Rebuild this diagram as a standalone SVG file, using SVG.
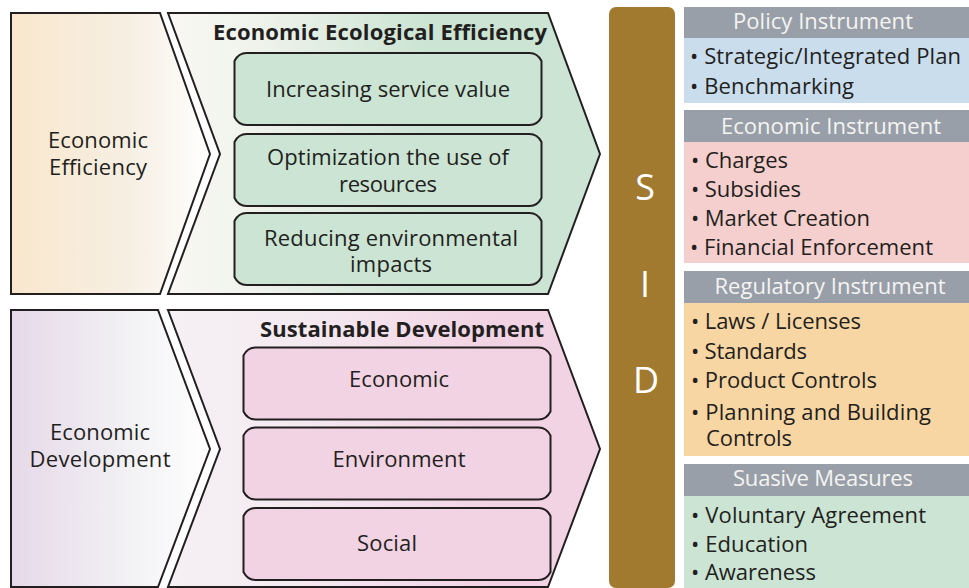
<svg xmlns="http://www.w3.org/2000/svg" width="969" height="588" viewBox="0 0 969 588">
<style>
text{font-family:"Open Sans","Noto Sans","Liberation Sans",sans-serif;fill:#231f20;font-size:22px}
.m{text-anchor:middle}
.b{font-weight:700}
.w{fill:#f4f4f2}
.sid{fill:#fff;font-size:36px;text-anchor:middle}
.arrow{stroke:#231f20;stroke-width:2}
.box{stroke:#231f20;stroke-width:2}
.g{fill:#cbe4d3}.p{fill:#f2d3e3}
.h{fill:#999fa8}
</style>
<defs>
<linearGradient id="a1" x1="0" x2="1" y1="0" y2="0"><stop offset="0" stop-color="#f9e7cd"/><stop offset="0.6" stop-color="#f6efe3"/><stop offset="1" stop-color="#fff"/></linearGradient>
<linearGradient id="a2" x1="0" x2="1" y1="0" y2="0"><stop offset="0" stop-color="#f9f8f4"/><stop offset="0.2" stop-color="#f0f3ec"/><stop offset="0.6" stop-color="#cbe4d3"/><stop offset="1" stop-color="#cbe4d3"/></linearGradient>
<linearGradient id="a3" x1="0" x2="1" y1="0" y2="0"><stop offset="0" stop-color="#e6d9e9"/><stop offset="0.6" stop-color="#f2f1f4"/><stop offset="1" stop-color="#fff"/></linearGradient>
<linearGradient id="a4" x1="0" x2="1" y1="0" y2="0"><stop offset="0" stop-color="#f5f0f4"/><stop offset="0.3" stop-color="#f4ebf1"/><stop offset="0.75" stop-color="#f2d3e3"/><stop offset="1" stop-color="#f2d3e3"/></linearGradient>
<path id="bx" d="M12 0H295Q303 0 307 8V64Q303 72 295 72H12Q4 72 0 64V8Q4 0 12 0Z"/>
</defs>
<rect width="969" height="588" fill="#fff"/>
<g id="economic-efficiency">
<polygon class="arrow" fill="url(#a1)" points="11,13 160,13 210,154 160,294 11,294"/>
<text class="m" x="98" y="148" textLength="100">Economic</text>
<text class="m" x="98" y="175" textLength="98">Efficiency</text>
</g>
<g id="economic-ecological-efficiency">
<polygon class="arrow" fill="url(#a2)" points="168,13 548,13 600,154 548,294 168,294 220,154"/>
<text class="m b" x="380" y="40" textLength="334">Economic Ecological Efficiency</text>
<use href="#bx" class="box g" x="234.500" y="53"/>
<text class="m" x="388" y="97" textLength="244">Increasing service value</text>
<use href="#bx" class="box g" x="234.500" y="134"/>
<text class="m" x="388" y="165" textLength="242">Optimization the use of</text>
<text class="m" x="388" y="192" textLength="98">resources</text>
<use href="#bx" class="box g" x="234.500" y="213"/>
<text class="m" x="391" y="246" textLength="254">Reducing environmental</text>
<text class="m" x="391" y="272" textLength="82">impacts</text>
</g>
<g id="economic-development">
<polygon class="arrow" fill="url(#a3)" points="11,310 158,310 210,449 158,587 11,587"/>
<text class="m" x="100" y="440" textLength="100">Economic</text>
<text class="m" x="100" y="467" textLength="141">Development</text>
</g>
<g id="sustainable-development">
<polygon class="arrow" fill="url(#a4)" points="168,310 548,310 600,449 548,587 168,587 220,449"/>
<text class="m b" x="402" y="337" textLength="284">Sustainable Development</text>
<use href="#bx" class="box p" x="243.500" y="347.500"/>
<text class="m" x="399" y="387" textLength="100">Economic</text>
<use href="#bx" class="box p" x="243.500" y="427.500"/>
<text class="m" x="399" y="467" textLength="133">Environment</text>
<use href="#bx" class="box p" x="243.500" y="508"/>
<text class="m" x="387" y="551" textLength="60">Social</text>
</g>
<g id="sid">
<rect x="609" y="7" width="66" height="581" rx="7" fill="#a27a2f"/>
<text class="sid" x="645" y="200">S</text>
<text class="sid" x="645" y="297">I</text>
<text class="sid" x="646" y="393">D</text>
</g>
<g id="policy-instrument">
<rect class="h" x="684" y="7" width="285" height="31"/>
<rect x="684" y="38" width="285" height="65" fill="#cadded"/>
<text class="m w" x="823" y="29" textLength="180">Policy Instrument</text>
<text x="690" y="64" textLength="271">• Strategic/Integrated Plan</text>
<text x="690" y="94" textLength="164">• Benchmarking</text>
</g>
<g id="economic-instrument">
<rect class="h" x="684" y="110" width="285" height="32"/>
<rect x="684" y="142" width="285" height="121" fill="#f5cfcd"/>
<text class="m w" x="831" y="134" textLength="220">Economic Instrument</text>
<text x="691" y="168" textLength="97">• Charges</text>
<text x="691" y="197" textLength="110">• Subsidies</text>
<text x="691" y="226" textLength="179">• Market Creation</text>
<text x="690" y="255" textLength="243">• Financial Enforcement</text>
</g>
<g id="regulatory-instrument">
<rect class="h" x="684" y="271" width="285" height="32"/>
<rect x="684" y="303" width="285" height="153" fill="#f8d6a3"/>
<text class="m w" x="830" y="294" textLength="231">Regulatory Instrument</text>
<text x="691" y="329" textLength="170">• Laws / Licenses</text>
<text x="691" y="359" textLength="116">• Standards</text>
<text x="691" y="388" textLength="186">• Product Controls</text>
<text x="691" y="420" textLength="240">• Planning and Building</text>
<text x="706" y="446" textLength="86">Controls</text>
</g>
<g id="suasive-measures">
<rect class="h" x="684" y="464" width="285" height="32"/>
<rect x="684" y="496" width="285" height="92" fill="#cbe4d3"/>
<text class="m w" x="823" y="486" textLength="180">Suasive Measures</text>
<text x="691" y="523" textLength="235">• Voluntary Agreement</text>
<text x="691" y="552" textLength="117">• Education</text>
<text x="691" y="580" textLength="125">• Awareness</text>
</g>
</svg>
